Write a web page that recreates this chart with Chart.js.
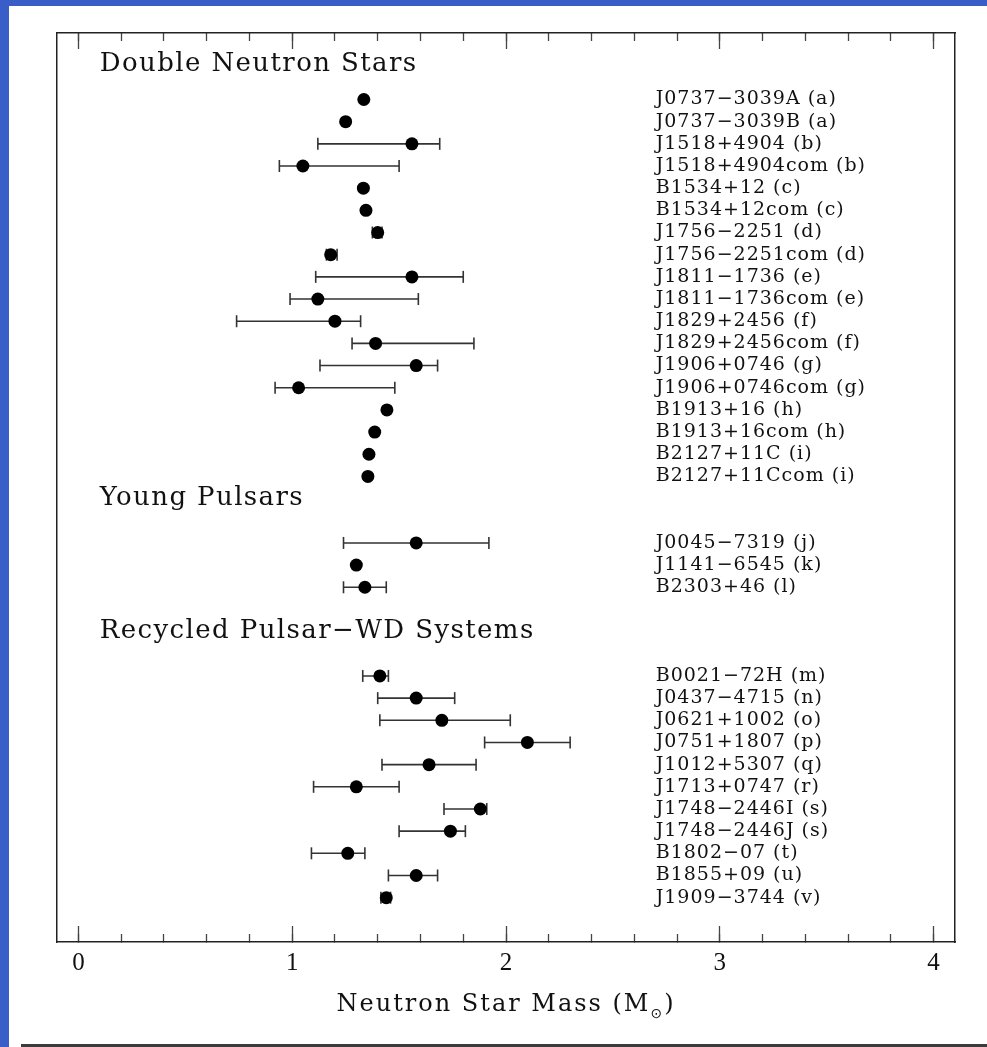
<!DOCTYPE html>
<html><head><meta charset="utf-8">
<script src="https://cdn.jsdelivr.net/npm/chart.js@4.4.0/dist/chart.umd.min.js"></script>
<style>
html,body{margin:0;padding:0;background:#fff;width:987px;height:1047px;overflow:hidden;position:relative}
#c{position:absolute;left:0;top:0}
.bl{position:absolute;left:0;top:0;width:9px;height:1047px;background:#3a5ec8}
.bt{position:absolute;left:0;top:0;width:987px;height:6px;background:#3a5ec8}
.bb{position:absolute;left:21px;top:1044px;width:966px;height:3px;background:#3c3c3c}
</style></head><body>
<canvas id="c" width="987" height="1047"></canvas>
<div class="bl"></div><div class="bt"></div><div class="bb"></div>
<script>
// ---------- DATA ----------
const groupTitles = ['Double Neutron Stars', 'Young Pulsars', 'Recycled Pulsar\u2212WD Systems'];
const pulsarNames = [
  'J0737\u22123039A (a)', 'J0737\u22123039B (a)', 'J1518+4904 (b)', 'J1518+4904com (b)',
  'B1534+12 (c)', 'B1534+12com (c)', 'J1756\u22122251 (d)', 'J1756\u22122251com (d)',
  'J1811\u22121736 (e)', 'J1811\u22121736com (e)', 'J1829+2456 (f)', 'J1829+2456com (f)',
  'J1906+0746 (g)', 'J1906+0746com (g)', 'B1913+16 (h)', 'B1913+16com (h)',
  'B2127+11C (i)', 'B2127+11Ccom (i)',
  'J0045\u22127319 (j)', 'J1141\u22126545 (k)', 'B2303+46 (l)',
  'B0021\u221272H (m)', 'J0437\u22124715 (n)', 'J0621+1002 (o)', 'J0751+1807 (p)',
  'J1012+5307 (q)', 'J1713+0747 (r)', 'J1748\u22122446I (s)', 'J1748\u22122446J (s)',
  'B1802\u221207 (t)', 'B1855+09 (u)', 'J1909\u22123744 (v)'
];
const pulsarGroup = [0,0,0,0,0,0,0,0,0,0,0,0,0,0,0,0,0,0, 1,1,1, 2,2,2,2,2,2,2,2,2,2,2];
const massValues = [
  1.335, 1.250, 1.56, 1.05, 1.333, 1.345, 1.40, 1.18, 1.56, 1.12, 1.20, 1.39, 1.58, 1.03,
  1.443, 1.386, 1.359, 1.354,
  1.58, 1.30, 1.34,
  1.41, 1.58, 1.70, 2.10, 1.64, 1.30, 1.88, 1.74, 1.26, 1.58, 1.44
];
const massLow = [
  null, null, 1.12, 0.94, null, null, 1.375, 1.16, 1.11, 0.99, 0.74, 1.28, 1.13, 0.92,
  null, null, null, null,
  1.24, null, 1.24,
  1.33, 1.40, 1.41, 1.90, 1.42, 1.10, 1.71, 1.50, 1.09, 1.45, 1.415
];
const massHigh = [
  null, null, 1.69, 1.50, null, null, 1.42, 1.21, 1.80, 1.59, 1.32, 1.85, 1.68, 1.48,
  null, null, null, null,
  1.92, null, 1.44,
  1.45, 1.76, 2.02, 2.30, 1.86, 1.50, 1.91, 1.81, 1.34, 1.68, 1.46
];
const xTickLabels = ['0', '1', '2', '3', '4'];
const xTickValues = [0, 1, 2, 3, 4];
const axisTitleMain = 'Neutron Star Mass (M';
const axisTitleSub = '\u2299';
const axisTitleEnd = ')';

// ---------- LAYOUT ----------
const groupFirstSlot = [0, 20, 26];
const groupHeaderSlot = [-1.6, 18, 24];
const labelX = 2.7;
const headerX = 0.1;

const firstIndex = [];
pulsarGroup.forEach((g, i) => { if (firstIndex[g] === undefined) firstIndex[g] = i; });
const slots = pulsarGroup.map((g, i) => groupFirstSlot[g] + (i - firstIndex[g]));

const dotData = massValues.map((m, i) => ({x: m, y: slots[i]}));
const errData = [];
massValues.forEach((m, i) => {
  if (massLow[i] !== null && massHigh[i] !== null) {
    errData.push({x: massLow[i], y: slots[i]}, {x: massHigh[i], y: slots[i]}, {x: null, y: null});
  }
});
const minorTicks = [];
for (let k = 0; k <= 20; k++) minorTicks.push(k / 5);

const frameColor = '#222';
const tickColor = '#444';

function xAxis(pos, weight, ticksArr, len, opts) {
  return Object.assign({
    type: 'linear', axis: 'x', position: pos, weight: weight, min: -0.1, max: 4.1,
    afterBuildTicks: s => { s.ticks = ticksArr.map(v => ({value: v})); },
    ticks: {display: false, autoSkip: false},
    grid: {drawOnChartArea: false, drawTicks: true, tickLength: len, tickColor: tickColor, tickWidth: 1.3},
    border: {display: false},
    afterFit: s => { s.height = 0; }
  }, opts || {});
}
function yAxis(pos) {
  return {
    type: 'linear', axis: 'y', position: pos, min: -3, max: 38, reverse: true,
    ticks: {display: false},
    grid: {drawOnChartArea: false, drawTicks: false},
    border: {display: true, color: frameColor, width: 1.5},
    afterFit: s => { s.width = 0; }
  };
}

const textPlugin = {
  id: 'texts',
  afterDraw(chart) {
    const ctx = chart.ctx;
    const xs = chart.scales.x, ys = chart.scales.y;
    ctx.save();
    ctx.fillStyle = '#111';
    ctx.textAlign = 'left';
    ctx.textBaseline = 'middle';
    ctx.font = '19px "DejaVu Serif"';
    ctx.letterSpacing = '1px';
    pulsarNames.forEach((n, i) => {
      ctx.fillText(n, xs.getPixelForValue(labelX), ys.getPixelForValue(slots[i]));
    });
    ctx.font = '26px "DejaVu Serif"';
    ctx.letterSpacing = '1.4px';
    groupTitles.forEach((t, g) => {
      ctx.fillText(t, xs.getPixelForValue(headerX), ys.getPixelForValue(groupHeaderSlot[g]));
    });
    // axis title with subscript
    const ca = chart.chartArea;
    const cx = (ca.left + ca.right) / 2;
    const ty = 1005;
    ctx.letterSpacing = '2px';
    ctx.font = '24px "DejaVu Serif"';
    const w1 = ctx.measureText(axisTitleMain).width;
    const w3 = ctx.measureText(axisTitleEnd).width;
    ctx.font = '14px "DejaVu Sans"';
    const w2 = ctx.measureText(axisTitleSub).width;
    let sx = cx - (w1 + w2 + w3) / 2;
    ctx.font = '24px "DejaVu Serif"';
    ctx.fillText(axisTitleMain, sx, ty);
    ctx.font = '14px "DejaVu Sans"';
    ctx.fillText(axisTitleSub, sx + w1, ty + 9);
    ctx.font = '24px "DejaVu Serif"';
    ctx.fillText(axisTitleEnd, sx + w1 + w2, ty);
    ctx.restore();
  }
};

new Chart(document.getElementById('c'), {
  type: 'scatter',
  data: {
    datasets: [
      {
        label: 'mass', data: dotData, order: 0,
        pointStyle: 'circle', pointRadius: 6.5, pointHoverRadius: 6.5,
        backgroundColor: '#000', borderWidth: 0, showLine: false
      },
      {
        label: 'error', data: errData, order: 1, showLine: true, spanGaps: false,
        borderColor: '#333', borderWidth: 1.6, backgroundColor: '#333',
        pointStyle: 'line', rotation: 90, pointRadius: 6, pointHoverRadius: 6,
        pointBorderColor: '#333', pointBorderWidth: 1.6
      }
    ]
  },
  options: {
    responsive: false, animation: false,
    layout: {padding: {left: 57, right: 32, top: 33, bottom: 0}},
    plugins: {legend: {display: false}, tooltip: {enabled: false}},
    scales: {
      x: xAxis('bottom', 0, minorTicks, -8, {border: {display: true, color: frameColor, width: 1.5}}),
      xMajor: xAxis('bottom', 1, xTickValues, -16, {
        ticks: {display: true, autoSkip: false, maxRotation: 0, padding: 22, color: '#111',
          font: {family: 'Liberation Serif', size: 25},
          callback: (v, i) => xTickLabels[i]},
        afterFit: s => { s.height = 105; }
      }),
      xTop: xAxis('top', 0, minorTicks, -8, {border: {display: true, color: frameColor, width: 1.5}}),
      xTopMajor: xAxis('top', 1, xTickValues, -16),
      y: yAxis('left'),
      yRight: yAxis('right')
    }
  },
  plugins: [textPlugin]
});
</script>
</body></html>
